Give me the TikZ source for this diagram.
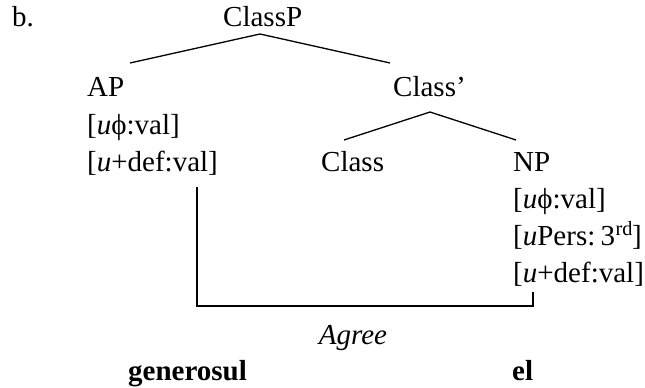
\documentclass[tikz,border=0pt]{standalone}
\usepackage{fontspec}
\setmainfont{Liberation Serif}
\begin{document}
\begin{tikzpicture}[x=1pt,y=-1pt,
  lbl/.style={anchor=base west,inner sep=0pt,font=\fontsize{29}{37}\selectfont},
  edge/.style={line width=1.3pt},
  agreeline/.style={line width=1.4pt}]
\useasboundingbox (0,0) rectangle (645,388);
% labels
\node[lbl] (b) at (12,27) {b.};
\node[lbl] (classp) at (223,27) {ClassP};
\node[lbl] (ap) at (87,96) {AP};
\node[lbl] (apf1) at (87,134) {[\textit{u}ϕ:val]};
\node[lbl] (apf2) at (87,171) {[\textit{u}+def:val]};
\node[lbl] (classbar) at (393,96) {Class’};
\node[lbl] (class) at (321,171) {Class};
\node[lbl] (np) at (513,171) {NP};
\node[lbl] (npf1) at (513,208) {[\textit{u}ϕ:val]};
\node[lbl] (npf2) at (513,245) {[\textit{u}Pers:\hspace{0.18em}3\kern0.02em\textsuperscript{rd}\kern-0.03em]};
\node[lbl] (npf3) at (513,282) {[\textit{u}+def:val]};
\node[lbl,anchor=base] (agree) at (353,344) {\textit{Agree}};
\node[lbl] (gen) at (128,380) {\textbf{generosul}};
\node[lbl] (el) at (512,380) {\textbf{el}};
% tree connectors
\coordinate (cpbot) at (260,34);
\coordinate (aptop) at (130,63);
\coordinate (cbtop) at (390,63);
\coordinate (cbbot) at (430,112);
\coordinate (ctop) at (344,140);
\coordinate (nptop) at (516,140);
\draw[edge] (cpbot) -- (aptop);
\draw[edge] (cpbot) -- (cbtop);
\draw[edge] (cbbot) -- (ctop);
\draw[edge] (cbbot) -- (nptop);
% agree bracket
\coordinate (al) at (197,187);
\coordinate (ar) at (533,292);
\draw[agreeline] (al) |- (533,306) -- (ar);
\end{tikzpicture}
\end{document}
